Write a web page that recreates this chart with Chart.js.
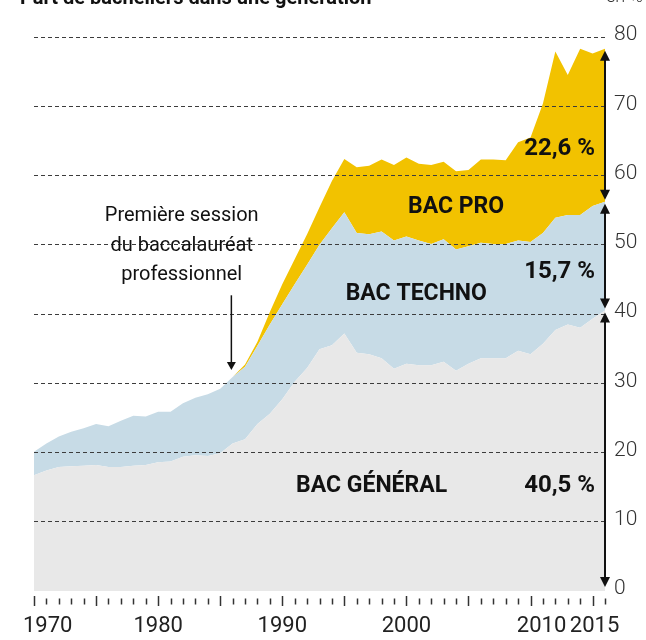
<!DOCTYPE html>
<html lang="fr">
<head>
<meta charset="utf-8">
<title>Part de bacheliers dans une génération</title>
<script src="https://cdn.jsdelivr.net/npm/chart.js@4.4.1/dist/chart.umd.min.js"></script>
<style>
  body { margin: 0; background: #fff; overflow: hidden; }
  .cadre { position: relative; width: 646px; height: 640px; }
  canvas { position: absolute; left: 0; top: 0; }
  .titre { position: absolute; left: 20px; top: -13px; font: 700 20px Roboto, sans-serif; line-height: 20px; color: #111; white-space: nowrap; }
  .unite { position: absolute; left: 606px; top: -14px; font: 300 18px Roboto, sans-serif; line-height: 20px; color: #333; white-space: nowrap; }
</style>
</head>
<body>
<div class="cadre">
  <canvas id="graphique-bac" width="646" height="640"></canvas>
  <div class="titre">Part de bacheliers dans une génération</div>
  <div class="unite">en %</div>
</div>
<script>
// Années (une par point)
const annees = [
  "1970", "1971", "1972", "1973", "1974", "1975", "1976", "1977", "1978", "1979",
  "1980", "1981", "1982", "1983", "1984", "1985", "1986", "1987", "1988", "1989",
  "1990", "1991", "1992", "1993", "1994", "1995", "1996", "1997", "1998", "1999",
  "2000", "2001", "2002", "2003", "2004", "2005", "2006", "2007", "2008", "2009",
  "2010", "2011", "2012", "2013", "2014", "2015", "2016"
];

// Part de bacheliers (en %) par type de bac
const bacGeneral = [
  16.7, 17.4, 17.9, 18.0, 18.1, 18.2, 17.9, 17.9, 18.1, 18.2,
  18.6, 18.7, 19.4, 19.6, 19.5, 19.9, 21.3, 21.9, 24.1, 25.6,
  27.7, 30.2, 32.2, 34.9, 35.5, 37.2, 34.4, 34.2, 33.6, 32.1,
  32.8, 32.6, 32.6, 33.1, 31.8, 32.8, 33.6, 33.6, 33.6, 34.7,
  34.2, 35.7, 37.7, 38.5, 38.0, 39.3, 40.5
];
const bacTechno = [
  3.4, 3.9, 4.4, 5.0, 5.4, 5.9, 5.9, 6.7, 7.2, 7.0,
  7.3, 7.2, 7.7, 8.3, 8.9, 9.3, 9.6, 10.5, 11.3, 12.9,
  13.7, 14.1, 14.9, 15.1, 16.9, 17.5, 17.3, 17.3, 18.3, 18.5,
  18.4, 18.0, 17.5, 17.7, 17.5, 17.0, 16.7, 16.5, 16.5, 15.9,
  16.2, 16.0, 16.2, 15.8, 16.3, 16.3, 15.7
];
const bacPro = [
  0, 0, 0, 0, 0, 0, 0, 0, 0, 0,
  0, 0, 0, 0, 0, 0, 0, 0.3, 0.6, 1.8,
  2.9, 3.6, 4.4, 5.4, 6.8, 7.7, 9.5, 9.9, 10.4, 10.9,
  11.4, 11.1, 11.4, 11.2, 11.3, 11.0, 12.0, 12.2, 12.1, 14.2,
  15.1, 18.7, 24.0, 20.2, 24.0, 22.0, 22.1
];

// Etiquettes affichées sous l'axe des années
const etiquettesAnnees = ["1970", "1980", "1990", "2000", "2010", "2015"];
// Graduations de l'axe vertical
const graduationsY = [0, 10, 20, 30, 40, 50, 60, 70, 80];

// Libellés posés sur le graphique
const nomsSeries = ["BAC GÉNÉRAL", "BAC TECHNO", "BAC PRO"];
const partsFinales = ["40,5 %", "15,7 %", "22,6 %"];
const noteLignes = ["Première session", "du baccalauréat", "professionnel"];

const POLICE = "Roboto, 'Noto Sans', sans-serif";

// Dessine une pointe de flèche (sens = 1 vers le bas, -1 vers le haut)
function pointe(ctx, x, yPointe, sens, largeur, hauteur) {
  ctx.beginPath();
  ctx.moveTo(x, yPointe);
  ctx.lineTo(x - largeur / 2, yPointe - sens * hauteur);
  ctx.lineTo(x + largeur / 2, yPointe - sens * hauteur);
  ctx.closePath();
  ctx.fill();
}

// Axe des années : graduations (grandes tous les 5 ans) et étiquettes
const pluginAxeAnnees = {
  id: "axeAnnees",
  afterDraw(chart) {
    const ctx = chart.ctx;
    const echX = chart.scales.x;
    const bas = chart.chartArea.bottom;
    ctx.save();
    ctx.strokeStyle = "#333";
    ctx.lineWidth = 1.5;
    for (let i = 0; i < annees.length; i++) {
      const x = Math.round(echX.getPixelForValue(i)) + 0.5;
      const grande = Number(annees[i]) % 5 === 0;
      ctx.beginPath();
      ctx.moveTo(x, bas + (grande ? 5 : 7.5));
      ctx.lineTo(x, bas + (grande ? 15 : 13.5));
      ctx.stroke();
    }
    ctx.fillStyle = "#222";
    ctx.font = "400 22px " + POLICE;
    ctx.textBaseline = "alphabetic";
    for (const annee of etiquettesAnnees) {
      const x = echX.getPixelForValue(annees.indexOf(annee));
      // la première étiquette part de la graduation, 2010 et 2015 sont écartées l'une de l'autre
      if (annee === "1970") {
        ctx.textAlign = "left";
        ctx.fillText(annee, x - 11, bas + 41);
      } else {
        ctx.textAlign = "center";
        let decalage = 0;
        if (annee === "2010") decalage = 11;
        if (annee === "2015") decalage = 2;
        ctx.fillText(annee, x + decalage, bas + 41);
      }
    }
    ctx.restore();
  }
};

const pluginAnnotations = {
  id: "annotations",
  afterDraw(chart) {
    const ctx = chart.ctx;
    const echX = chart.scales.x;
    const echY = chart.scales.y;
    const px = (annee) => echX.getPixelForValue(annee - 1970);
    const py = (valeur) => echY.getPixelForValue(valeur);

    ctx.save();
    ctx.fillStyle = "#111";
    ctx.strokeStyle = "#111";

    // Noms des séries
    ctx.font = "700 23px " + POLICE;
    ctx.textAlign = "center";
    ctx.textBaseline = "alphabetic";
    ctx.fillText(nomsSeries[0], px(1997.2), py(14.3));
    ctx.fillText(nomsSeries[1], px(2000.8), py(42.0));
    ctx.fillText(nomsSeries[2], px(2004.0), py(54.6));

    // Parts en 2016
    ctx.font = "700 24px " + POLICE;
    ctx.textAlign = "right";
    ctx.fillText(partsFinales[0], px(2015.2), py(14.3));
    ctx.fillText(partsFinales[1], px(2015.2), py(45.2));
    ctx.fillText(partsFinales[2], px(2015.2), py(62.9));

    // Note sur la première session du bac pro
    ctx.font = "400 20px " + POLICE;
    ctx.textAlign = "center";
    for (let i = 0; i < noteLignes.length; i++) {
      ctx.fillText(noteLignes[i], px(1981.9), py(53.4) + i * 29.3);
    }
    // Flèche de la note
    const xNote = px(1985.9);
    ctx.lineWidth = 1.5;
    ctx.beginPath();
    ctx.moveTo(xNote, py(42.7));
    ctx.lineTo(xNote, py(31.9) - 6);
    ctx.stroke();
    pointe(ctx, xNote, py(31.9), 1, 9, 8);

    // Flèches doubles à droite (valeurs cumulées de la dernière année)
    const dernier = annees.length - 1;
    const xFin = echX.getPixelForValue(dernier);
    const cumuls = [
      0,
      bacGeneral[dernier],
      bacGeneral[dernier] + bacTechno[dernier],
      bacGeneral[dernier] + bacTechno[dernier] + bacPro[dernier]
    ];
    ctx.lineWidth = 2;
    for (let i = 0; i < 3; i++) {
      const yBas = py(cumuls[i]) - (i === 0 ? 4 : 2);
      const yHaut = py(cumuls[i + 1]) + 2;
      ctx.beginPath();
      ctx.moveTo(xFin, yBas - 4);
      ctx.lineTo(xFin, yHaut + 4);
      ctx.stroke();
      pointe(ctx, xFin, yBas, 1, 10, 10);
      pointe(ctx, xFin, yHaut, -1, 10, 10);
    }
    ctx.restore();
  }
};

const data = {
  labels: annees,
  datasets: [
    { label: nomsSeries[0], data: bacGeneral, backgroundColor: "#e8e8e8", fill: "origin" },
    { label: nomsSeries[1], data: bacTechno, backgroundColor: "#c7dbe6", fill: "-1" },
    { label: nomsSeries[2], data: bacPro, backgroundColor: "#f2c200", fill: "-1" }
  ]
};

const config = {
  type: "line",
  data: data,
  options: {
    responsive: false,
    animation: false,
    devicePixelRatio: 1,
    layout: { padding: { left: 34, top: 37, right: 0, bottom: 0 } },
    elements: {
      line: { borderWidth: 0, tension: 0 },
      point: { radius: 0 }
    },
    plugins: {
      legend: { display: false },
      tooltip: { enabled: false }
    },
    scales: {
      x: {
        grid: { display: false },
        border: { display: false },
        ticks: { display: false },
        afterFit: (echelle) => { echelle.height = 49; }
      },
      y: {
        position: "right",
        stacked: true,
        min: graduationsY[0],
        max: graduationsY[graduationsY.length - 1],
        afterBuildTicks: (echelle) => { echelle.ticks = graduationsY.map((v) => ({ value: v })); },
        grid: {
          z: 1,
          drawTicks: false,
          color: (c) => (c.tick && c.tick.value === 0 ? "rgba(0,0,0,0)" : "#3c3c3c"),
          lineWidth: 1
        },
        border: { display: false, dash: [4, 3] },
        ticks: {
          padding: 9,
          labelOffset: -2,
          color: "#333",
          font: { family: POLICE, size: 21, weight: "300" }
        },
        afterFit: (echelle) => { echelle.width = 41; }
      }
    }
  },
  plugins: [pluginAxeAnnees, pluginAnnotations]
};

new Chart(document.querySelector("#graphique-bac"), config);
</script>
</body>
</html>
